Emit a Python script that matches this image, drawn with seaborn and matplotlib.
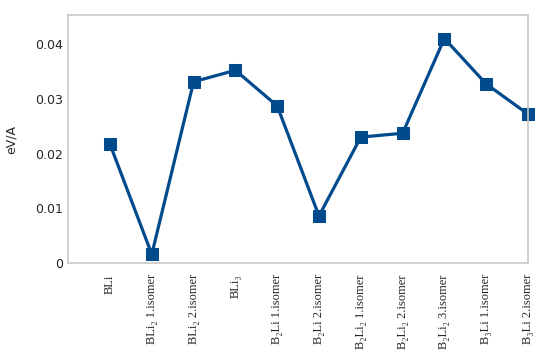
import pandas as pd
import matplotlib.pyplot as plt
import seaborn as sns

# Values
labels = ["BLi", "BLi₂ 1.isomer", "BLi₂ 2.isomer", "BLi₃", "B₂Li 1.isomer",
          "B₂Li 2.isomer", "B₂Li₂ 1.isomer", "B₂Li₂ 2.isomer", "B₂Li₂ 3.isomer",
          "B₃Li 1.isomer", "B₃Li 2.isomer"]
values = [0.0217, 0.0016, 0.0331, 0.0352, 0.0287, 0.0086, 0.0230, 0.0237,
          0.0410, 0.0327, 0.0272]
yticks = [0, 0.01, 0.02, 0.03, 0.04]
ytick_labels = ["0", "0.01", "0.02", "0.03", "0.04"]

df = pd.DataFrame({"structure": labels, "eva": values})

sns.set_style("white")
plt.rcParams['font.family'] = ['DejaVu Sans']

fig = plt.figure(figsize=(5.5, 3.56), dpi=100)
ax = fig.add_axes([0.124, 0.261, 0.836, 0.697])

line_color = "#014a8c"
sns.lineplot(data=df, x="structure", y="eva", ax=ax, color=line_color,
             linewidth=2.3, marker="s", markersize=8, markeredgecolor=line_color,
             sort=False, clip_on=False)

ax.set_xlim(-1, len(labels) - 1)
ax.set_ylim(0, 0.0453)
ax.set_yticks(yticks)
ax.set_yticklabels(ytick_labels, fontsize=9)
ax.set_xticks(range(len(labels)))
ax.set_xticklabels(labels, rotation=90, fontsize=9,
                   family=['Liberation Serif', 'DejaVu Serif'])
ax.tick_params(axis='y', length=0, pad=3.5)
ax.tick_params(axis='x', length=0, pad=8)
ax.set_xlabel("")
ax.set_ylabel("eV/A", fontsize=9, labelpad=13)

for s in ax.spines.values():
    s.set_color("#c8c8c8")
    s.set_linewidth(1.2)

fig.savefig("out.png", dpi=100)
